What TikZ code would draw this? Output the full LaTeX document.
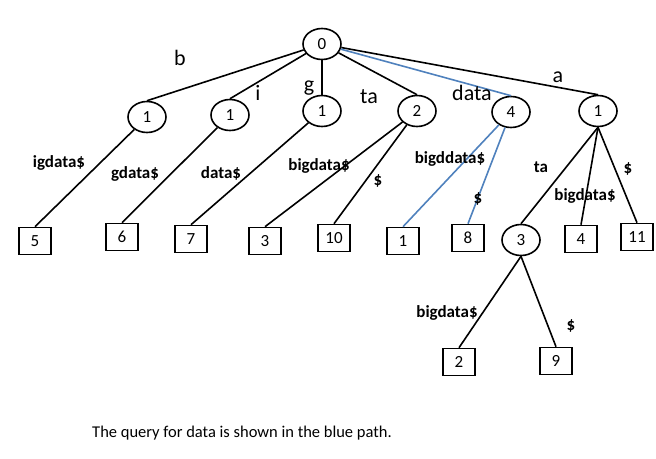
\documentclass[tikz,border=0pt]{standalone}
\usepackage{fontspec}
\setmainfont{Carlito}
\usetikzlibrary{shapes.geometric}

\definecolor{pathblue}{RGB}{79,129,189}

\begin{document}
\begin{tikzpicture}[x=1pt,y=-1pt]
        \tikzset{inner/.style={draw, ellipse, line width=1.6pt, minimum width=38pt,
                minimum height=31pt, inner sep=0pt, font=\fontsize{17}{19}\selectfont},
                leaf/.style={draw, rectangle, line width=1.6pt, minimum width=32pt,
                minimum height=27pt, inner sep=0pt, font=\fontsize{17}{19}\selectfont},
                edge/.style={line width=1.6pt},
                query/.style={line width=1.6pt, color=pathblue},
                biglabel/.style={font=\fontsize{22}{25}\selectfont, inner sep=0pt},
                suffix/.style={font=\fontsize{17}{19}\selectfont\bfseries, inner sep=0pt}}
        \useasboundingbox (0,0) rectangle (656,458);
        \node[inner] (root) at (322,44) {0};
        \node[inner] (nb) at (147,117) {1};
        \node[inner] (ni) at (230,115) {1};
        \node[inner] (ng) at (322,111) {1};
        \node[inner] (nta) at (417,111) {2};
        \node[inner] (ndata) at (511,112) {4};
        \node[inner] (na) at (598,111) {1};
        \node[inner] (nata) at (521,240) {3};
        \node[leaf] (l5) at (35,241) {5};
        \node[leaf] (l6) at (122,237) {6};
        \node[leaf] (l7) at (191,239) {7};
        \node[leaf] (l3) at (265,241) {3};
        \node[leaf] (l10) at (334,238) {10};
        \node[leaf] (l1) at (403,241) {1};
        \node[leaf] (l8) at (468,238) {8};
        \node[leaf] (l4) at (581,239) {4};
        \node[leaf] (l11) at (637,237) {11};
        \node[leaf] (l2) at (459,362) {2};
        \node[leaf] (l9) at (556,361) {9};
        \draw[edge] (root) -- (nb.north);
        \draw[edge] (root) -- (ni.north);
        \draw[edge] (root) -- (ng.north);
        \draw[edge] (root) -- (nta.north);
        \draw[edge] (root) -- (na.north);
        \draw[query] (root) -- (ndata.north);
        \draw[edge] (nb) -- (l5.north);
        \draw[edge] (ni) -- (l6.north);
        \draw[edge] (ng) -- (l7.north);
        \draw[edge] (nta) -- (l3.north);
        \draw[edge] (nta) -- (l10.north);
        \draw[query] (ndata) -- (l1.north);
        \draw[query] (ndata) -- (l8.north);
        \draw[edge] (na.south) -- (nata.north);
        \draw[edge] (na.south) -- (l4.north);
        \draw[edge] (na.south) -- (l11.north);
        \draw[edge] (nata.south) -- (l2.north);
        \draw[edge] (nata.south) -- (l9.north);
        \node[biglabel] (tb) at (180,58) {b};
        \node[biglabel] (ti) at (258,93) {i};
        \node[biglabel] (tg) at (309,88) {g};
        \node[biglabel] (tta) at (369,97) {ta};
        \node[biglabel] (tdata) at (472,93) {data};
        \node[biglabel] (ta) at (558,77) {a};
        \node[suffix] (s5) at (59,163) {igdata\$};
        \node[suffix] (s6) at (135,174) {gdata\$};
        \node[suffix] (s7) at (221,173) {data\$};
        \node[suffix] (s3) at (319,166) {bigdata\$};
        \node[suffix] (s10) at (378,181) {\$};
        \node[suffix] (s1) at (450,159) {bigddata\$};
        \node[suffix] (s8) at (478,199) {\$};
        \node[suffix] (sta) at (541,167) {ta};
        \node[suffix] (s4) at (585,196) {bigdata\$};
        \node[suffix] (s11) at (628,169) {\$};
        \node[suffix] (s2) at (447,313) {bigdata\$};
        \node[suffix] (s9) at (571,326) {\$};
        \node[font=\fontsize{16.5}{19}\selectfont, inner sep=0pt] (caption) at (242,433)
                {The query for data is shown in the blue path.};
\end{tikzpicture}
\end{document}
